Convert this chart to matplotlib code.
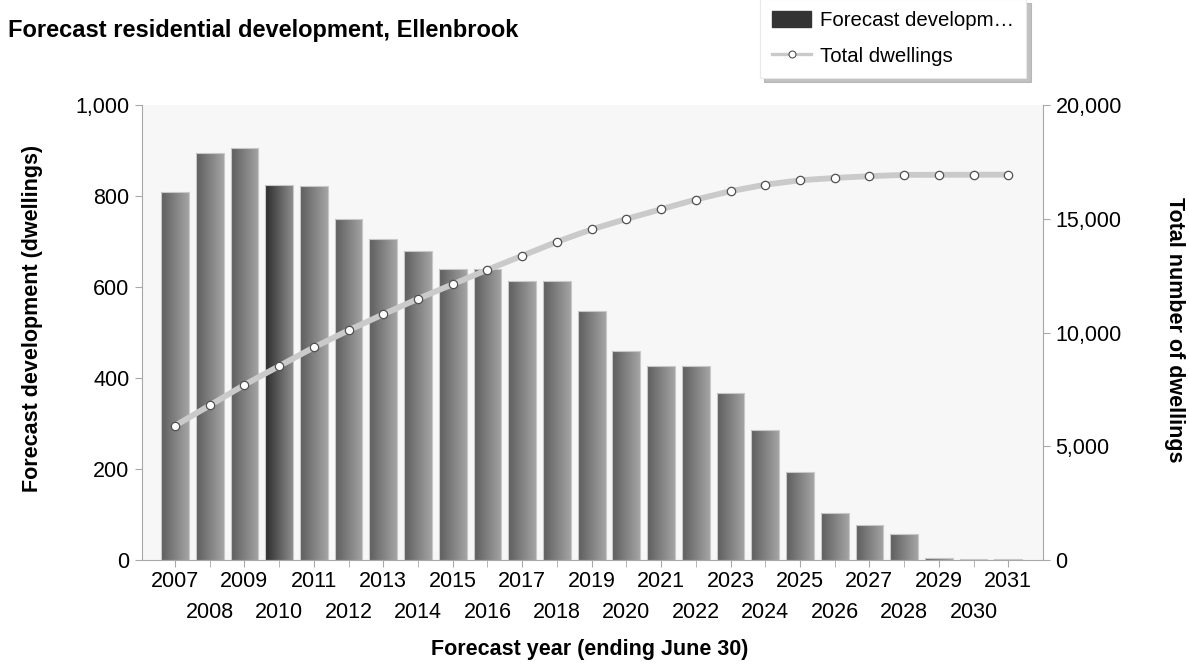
import numpy as np
import matplotlib.pyplot as plt
from matplotlib.colors import LinearSegmentedColormap
from matplotlib.patches import Patch
from matplotlib.lines import Line2D
from matplotlib.ticker import FuncFormatter

plt.rcParams["font.family"] = ["Liberation Sans", "DejaVu Sans"]

# ── Dados ─────────────────────────────────────────────────────────────────────
years = list(range(2007, 2032))
development = [808, 895, 905, 825, 822, 749, 705, 679, 640, 640,
               613, 613, 547, 459, 426, 426, 367, 286, 193, 103,
               78, 57, 4, 3, 3]
total_dwellings = [5900, 6795, 7700, 8525, 9347, 10096, 10801, 11480, 12120, 12760,
                   13373, 13986, 14533, 14992, 15418, 15844, 16211, 16497, 16690, 16793,
                   16871, 16928, 16932, 16935, 16938]
highlight_year = 2010

COLORS = {
    "plot_bg": "#F7F7F7",
    "axis": "#A8A8A8",
    "line": "#CACACA",
    "marker_edge": "#505050",
    "legend_bar": "#333333",
}
TICK_FS = 15.5
LABEL_FS = 15.5

bar_cmap = LinearSegmentedColormap.from_list("bar", ["#5e5e5e", "#a4a4a4"])
hl_cmap = LinearSegmentedColormap.from_list("bar_hl", ["#2c2c2c", "#8c8c8c"])

fig = plt.figure(figsize=(11.89, 6.65), dpi=100)
ax = fig.add_axes([142 / 1189, 105 / 665, (1043 - 142) / 1189, 455 / 665])
ax.set_facecolor(COLORS["plot_bg"])

x = np.arange(len(years))
bar_w = 0.8
bars = ax.bar(x, development, width=bar_w, color="none",
              edgecolor="#c8c8c8", linewidth=0.8, zorder=3)

# gradiente horizontal em cada barra
grad = np.linspace(0, 1, 64).reshape(1, -1)
for xi, b, yr in zip(x, bars, years):
    h = b.get_height()
    if h <= 0:
        continue
    cmap = hl_cmap if yr == highlight_year else bar_cmap
    im = ax.imshow(grad, cmap=cmap, aspect="auto", zorder=2,
                   extent=[xi - bar_w / 2, xi + bar_w / 2, 0, h])
    im.set_clip_path(b)

ax.set_xlim(-0.95, 25.0)
ax.set_ylim(0, 1000)
ax.set_yticks(range(0, 1001, 200))
ax.yaxis.set_major_formatter(FuncFormatter(lambda v, _: f"{v:,.0f}"))

# anos ímpares em cima, pares na linha de baixo
ax.set_xticks(x[::2])
ax.set_xticklabels([str(y) for y in years[::2]])
ax.set_xticks(x[1::2], minor=True)
ax.set_xticklabels([str(y) for y in years[1::2]], minor=True)
ax.tick_params(axis="x", which="major", length=5, pad=3, labelsize=TICK_FS,
               color=COLORS["axis"])
ax.tick_params(axis="x", which="minor", length=5, pad=25, labelsize=TICK_FS,
               color=COLORS["axis"])
ax.tick_params(axis="y", length=5, pad=4, labelsize=TICK_FS, color=COLORS["axis"])

for side in ("top", "right"):
    ax.spines[side].set_visible(False)
for side in ("left", "bottom"):
    ax.spines[side].set_color(COLORS["axis"])

ax2 = ax.twinx()
ax2.plot(x, total_dwellings, color=COLORS["line"], linewidth=4.2,
         solid_capstyle="round", zorder=4)
ax2.plot(x, total_dwellings, linestyle="none", marker="o", markersize=6,
         markerfacecolor="white", markeredgecolor=COLORS["marker_edge"],
         markeredgewidth=0.9, zorder=5)
ax2.set_ylim(0, 20000)
ax2.set_yticks(range(0, 20001, 5000))
ax2.yaxis.set_major_formatter(FuncFormatter(lambda v, _: f"{v:,.0f}"))
ax2.tick_params(axis="y", length=5, pad=4, labelsize=TICK_FS, color=COLORS["axis"])
for side in ("top", "left", "bottom"):
    ax2.spines[side].set_visible(False)
ax2.spines["right"].set_color(COLORS["axis"])

# textos
fig.text(8 / 1189, 1 - 31 / 665, "Forecast residential development, Ellenbrook",
         fontsize=17, fontweight="bold", va="center", ha="left")
fig.text(33 / 1189, 1 - 318 / 665, "Forecast development (dwellings)",
         fontsize=LABEL_FS, fontweight="bold", rotation=90, va="center", ha="center")
fig.text(1175 / 1189, 1 - 330 / 665, "Total number of dwellings",
         fontsize=LABEL_FS, fontweight="bold", rotation=-90, va="center", ha="center")
fig.text(590 / 1189, 1 - 650 / 665, "Forecast year (ending June 30)",
         fontsize=LABEL_FS, fontweight="bold", va="center", ha="center")

handles = [
    Patch(facecolor=COLORS["legend_bar"], edgecolor=COLORS["legend_bar"]),
    Line2D([0], [0], color=COLORS["line"], linewidth=2.4, marker="o",
           markersize=5, markerfacecolor="white",
           markeredgecolor=COLORS["marker_edge"], markeredgewidth=0.8),
]
leg = fig.legend(handles, ["Forecast developm\u2026", "Total dwellings"],
                 loc="upper left", bbox_to_anchor=(760 / 1189, 1 + 1 / 665),
                 fontsize=14.7, frameon=True, fancybox=False,
                 shadow={"ox": 3, "oy": -3, "color": "#9a9a9a", "alpha": 0.6},
                 handlelength=1.9, handleheight=0.8, handletextpad=0.45,
                 labelspacing=0.8, borderpad=0.6, borderaxespad=0)
leg.get_frame().set_edgecolor("#e8e8e8")
leg.get_frame().set_linewidth(0.8)

fig.savefig("out.png", dpi=100)
